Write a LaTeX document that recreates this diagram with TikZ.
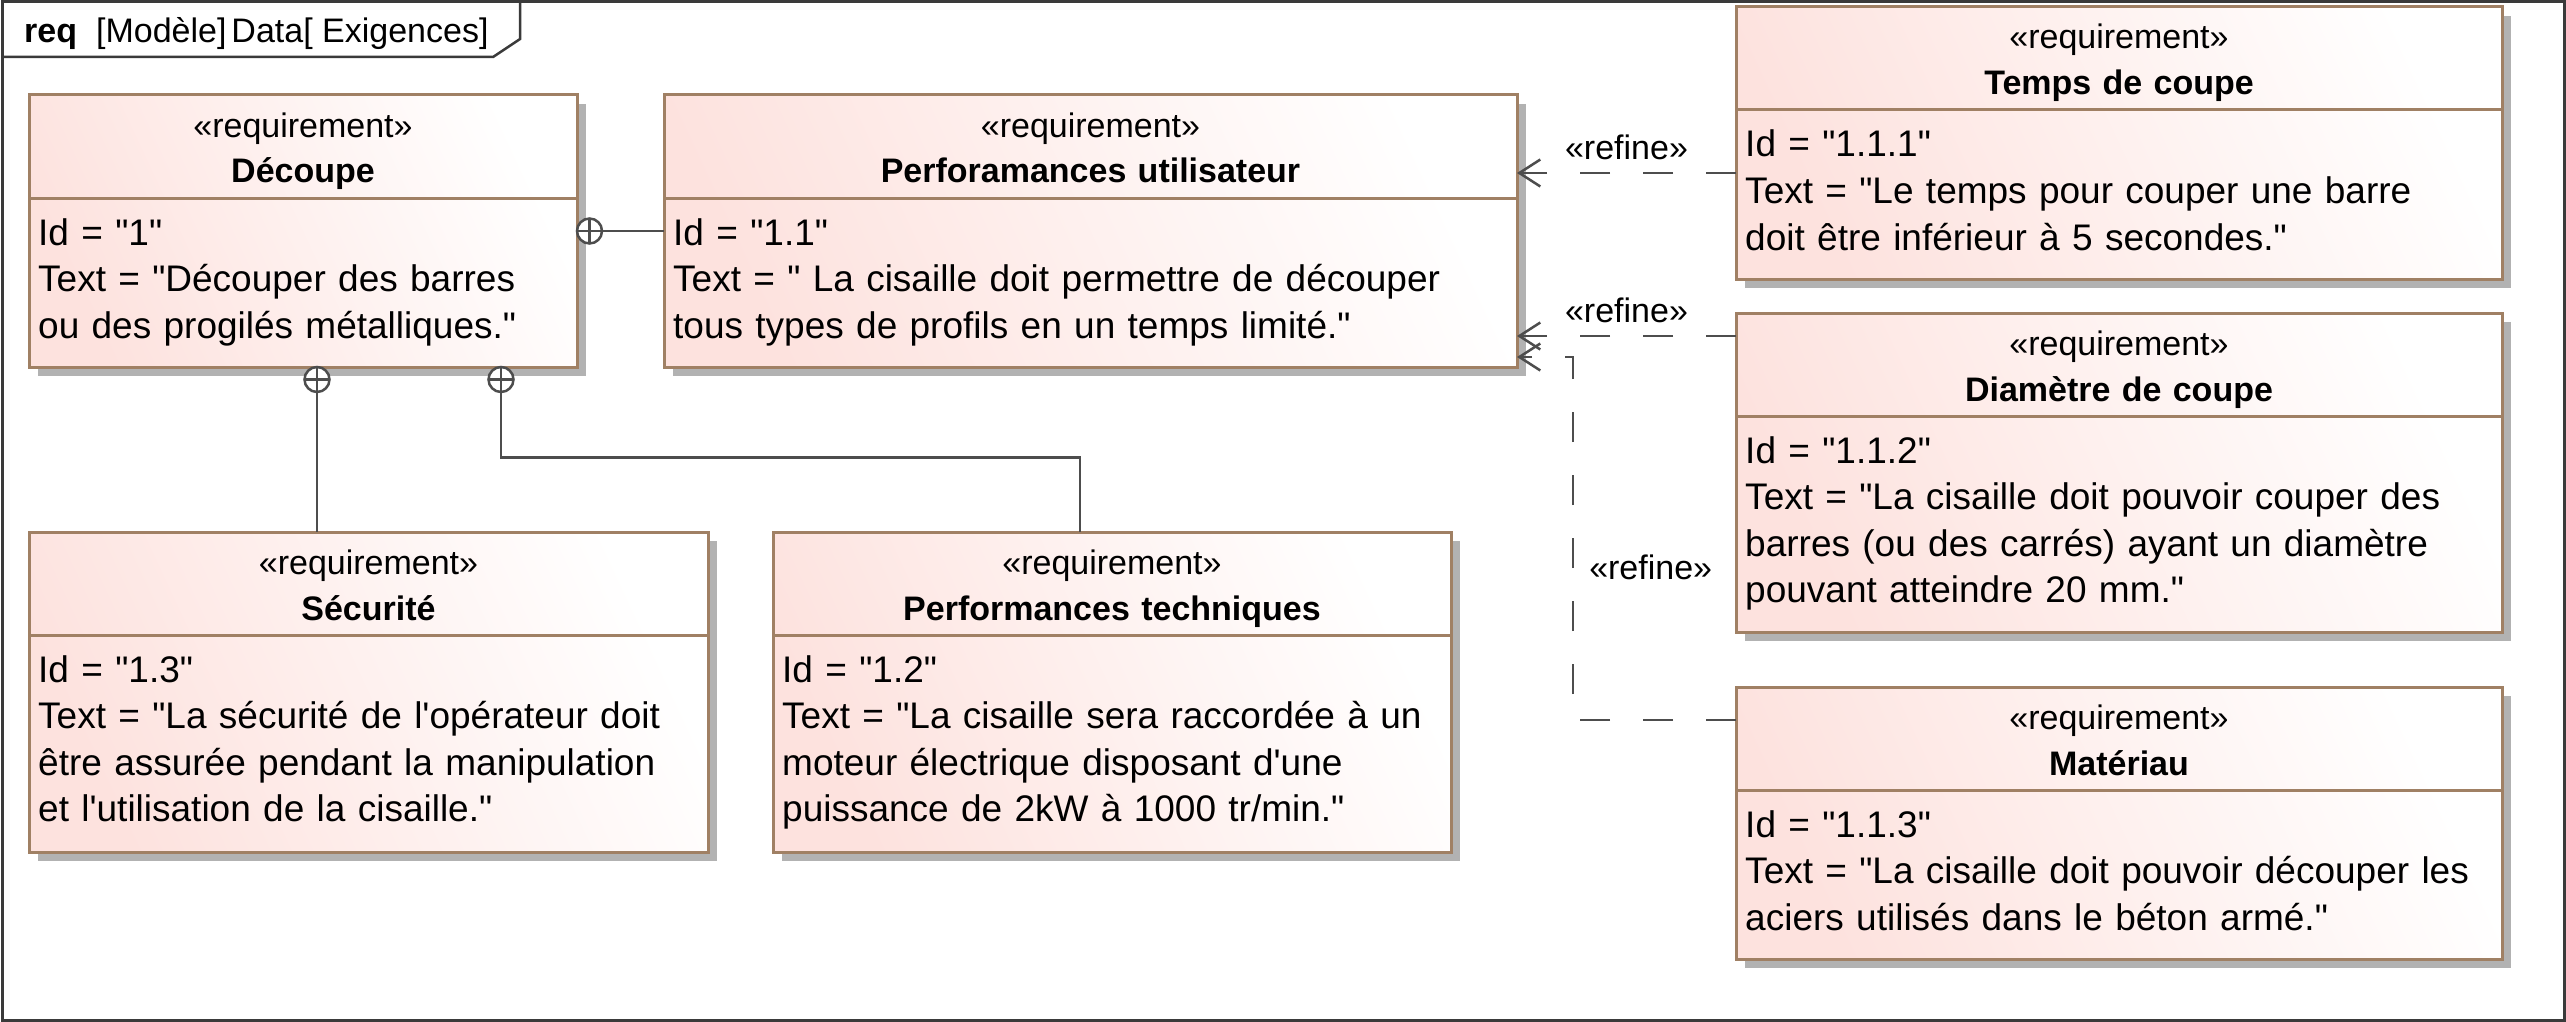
\documentclass[tikz,border=0pt]{standalone}
\usepackage{fontspec}
\setmainfont{Liberation Sans}
\usetikzlibrary{positioning,shadows,arrows.meta}

\definecolor{reqborder}{HTML}{A08064}
\definecolor{reqpink}{HTML}{FDE2DE}
\definecolor{wire}{HTML}{4D4D4D}
\definecolor{framegray}{HTML}{3A3A3A}

\begin{document}
\begin{tikzpicture}[x=1pt,y=-1pt]
    \tikzstyle{req}=[draw=reqborder, line width=3pt, anchor=north west, inner sep=0pt, outer sep=0pt,
        top color=reqpink, bottom color=white, shading angle=115,
        drop shadow={shadow xshift=9pt, shadow yshift=-9pt, fill=black!30, opacity=1}]
    \tikzstyle{head}=[anchor=base, align=center, text width=740pt, inner sep=0pt, font=\fontsize{34}{46}\selectfont]
    \tikzstyle{body}=[anchor=base west, align=left, text width=1000pt, inner sep=0pt, font=\fontsize{37}{46.6}\selectfont]
    \tikzstyle{oplus}=[circle, draw=wire, line width=2.5pt, fill=white, minimum size=25pt, inner sep=0pt, outer sep=0pt,
        path picture={\draw[wire, line width=2.5pt] (path picture bounding box.north) -- (path picture bounding box.south)
            (path picture bounding box.west) -- (path picture bounding box.east);}]
    \tikzstyle{assoc}=[draw=wire, line width=2.5pt]
    \tikzstyle{refine}=[draw=wire, line width=2.5pt, dash pattern=on 30pt off 33pt, -{Straight Barb[length=21pt, width=27pt]}]
    \tikzstyle{lbl}=[inner sep=0pt, font=\fontsize{34}{40}\selectfont]

    \useasboundingbox (0,0) rectangle (2566,1022);

    % cadre du diagramme
    \draw[framegray, line width=3pt] (2,2) rectangle (2564,1020);
    \draw[framegray, line width=2.5pt] (2,57) -- (493,57) -- (520,39) -- (520,2);
    \node[lbl, anchor=base west] (titre) at (24,43) {\textbf{req}\hspace{19pt}[Modèle]\hspace{5pt}Data[ Exigences]};

    % exigences
    \node[req, minimum width=548pt, minimum height=272pt] (decoupe) at (29,95) {};
    \node[req, minimum width=853pt, minimum height=272pt, right=87pt of decoupe] (perfu) {};
    \node[req, minimum width=766pt, minimum height=272pt] (temps) at (1736,7) {};
    \node[req, minimum width=766pt, minimum height=319pt, below=34pt of temps.south west, anchor=north west] (diam) {};
    \node[req, minimum width=766pt, minimum height=272pt, below=55pt of diam.south west, anchor=north west] (mat) {};
    \node[req, minimum width=679pt, minimum height=320pt] (secu) at (29,532) {};
    \node[req, minimum width=678pt, minimum height=320pt, right=65pt of secu] (perft) {};

    \foreach \n in {decoupe,perfu,temps,diam,mat,secu,perft}
        \draw[reqborder, line width=3pt] ([yshift=-103pt]\n.north west) -- ([yshift=-103pt]\n.north east);

    \node[head] (decoupe-h) at ([yshift=-42pt]decoupe.north) {«requirement»\\\textbf{Découpe}};
    \node[body] (decoupe-b) at ([xshift=9pt,yshift=-150pt]decoupe.north west)
        {Id = \textquotedbl 1\textquotedbl\\Text = \textquotedbl Découper des barres\\ou des progilés métalliques.\textquotedbl};

    \node[head] (perfu-h) at ([yshift=-42pt]perfu.north) {«requirement»\\\textbf{Perforamances utilisateur}};
    \node[body] (perfu-b) at ([xshift=9pt,yshift=-150pt]perfu.north west)
        {Id = \textquotedbl 1.1\textquotedbl\\Text = \textquotedbl{} La cisaille doit permettre de découper\\tous types de profils en un temps limité.\textquotedbl};

    \node[head] (temps-h) at ([yshift=-42pt]temps.north) {«requirement»\\\textbf{Temps de coupe}};
    \node[body] (temps-b) at ([xshift=9pt,yshift=-150pt]temps.north west)
        {Id = \textquotedbl 1.1.1\textquotedbl\\Text = \textquotedbl Le temps pour couper une barre\\doit être inférieur à 5 secondes.\textquotedbl};

    \node[head] (diam-h) at ([yshift=-42pt]diam.north) {«requirement»\\\textbf{Diamètre de coupe}};
    \node[body] (diam-b) at ([xshift=9pt,yshift=-150pt]diam.north west)
        {Id = \textquotedbl 1.1.2\textquotedbl\\Text = \textquotedbl La cisaille doit pouvoir couper des\\barres (ou des carrés) ayant un diamètre\\pouvant atteindre 20 mm.\textquotedbl};

    \node[head] (mat-h) at ([yshift=-42pt]mat.north) {«requirement»\\\textbf{Matériau}};
    \node[body] (mat-b) at ([xshift=9pt,yshift=-150pt]mat.north west)
        {Id = \textquotedbl 1.1.3\textquotedbl\\Text = \textquotedbl La cisaille doit pouvoir découper les\\aciers utilisés dans le béton armé.\textquotedbl};

    \node[head] (secu-h) at ([yshift=-42pt]secu.north) {«requirement»\\\textbf{Sécurité}};
    \node[body] (secu-b) at ([xshift=9pt,yshift=-150pt]secu.north west)
        {Id = \textquotedbl 1.3\textquotedbl\\Text = \textquotedbl La sécurité de l\textquotesingle opérateur doit\\être assurée pendant la manipulation\\et l\textquotesingle utilisation de la cisaille.\textquotedbl};

    \node[head] (perft-h) at ([yshift=-42pt]perft.north) {«requirement»\\\textbf{Performances techniques}};
    \node[body] (perft-b) at ([xshift=9pt,yshift=-150pt]perft.north west)
        {Id = \textquotedbl 1.2\textquotedbl\\Text = \textquotedbl La cisaille sera raccordée à un\\moteur électrique disposant d\textquotesingle une\\puissance de 2kW à 1000 tr/min.\textquotedbl};

    % contenance
    \node[oplus, right=0pt of decoupe] (o1) {};
    \node[oplus, anchor=north] (o2) at ([xshift=288pt]decoupe.south west) {};
    \node[oplus, anchor=north] (o3) at ([xshift=472pt]decoupe.south west) {};

    \draw[assoc] (o1) -- (perfu.west |- o1);
    \draw[assoc] (o2) -- (o2 |- secu.north);
    \draw[assoc] (o3) -- ++(0,78) -| ([xshift=-32pt]perft.north);

    % raffinement
    \draw[refine] (temps.west |- 0,173) -- node[lbl, anchor=base, yshift=13pt] (r1) {«refine»} (perfu.east |- 0,173);
    \draw[refine] (diam.west |- 0,336) -- node[lbl, anchor=base, yshift=14pt] (r2) {«refine»} (perfu.east |- 0,336);
    \draw[refine] (mat.west |- 0,720) -| node[lbl, pos=0.71, anchor=west, xshift=15pt] (r3) {«refine»} (1573,357) -- (perfu.east |- 0,357);
\end{tikzpicture}
\end{document}
